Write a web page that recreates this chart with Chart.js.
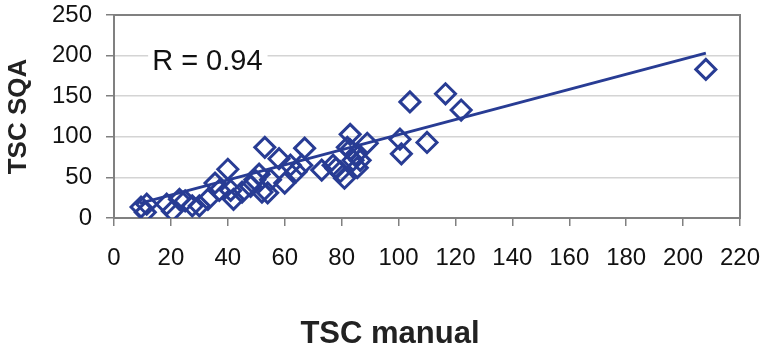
<!DOCTYPE html>
<html>
<head>
<meta charset="utf-8">
<script src="https://cdn.jsdelivr.net/npm/chart.js@4"></script>
<style>
  html, body { margin: 0; padding: 0; background: #fff; }
  #wrap { width: 764px; height: 349px; }
</style>
</head>
<body>
<div id="wrap"><canvas id="tscChart" width="764" height="349"></canvas></div>
<script>
// TSC manual (x) vs TSC SQA (y)
const manualX = [9.5, 11, 11.5, 18.5, 20.5, 23, 25, 27.5, 30, 33, 35.5, 37, 40, 41, 42, 45, 48, 49.5, 51, 53, 52, 54, 55, 58, 60, 62, 64, 66, 67, 73, 77, 78, 79.5, 81, 82, 83, 83, 84, 85, 85.5, 86.5, 89, 100.5, 101, 104, 110, 116.5, 122, 208];
const sqaY    = [13.5, 7, 17, 17, 8.5, 23, 21, 15, 15, 23, 43, 34, 60, 34, 23, 32, 39, 47, 54, 87, 32, 31, 47, 73, 43, 65, 57, 65, 86, 59, 65, 61, 57, 49, 87, 84, 103, 71, 78, 62, 71, 92, 97, 79, 143, 93, 153, 133, 183];

// regression line end points
const trendX = [9, 208];
const trendY = [18, 203];

const xTicks = [0, 20, 40, 60, 80, 100, 120, 140, 160, 180, 200, 220];
const yTicks = [0, 50, 100, 150, 200, 250];

const blue = '#283c94';

const points = manualX.map((x, i) => ({ x: x, y: sqaY[i] }));
const trend = trendX.map((x, i) => ({ x: x, y: trendY[i] }));

const labelsPlugin = {
    id: 'labels',
    beforeDatasetsDraw(chart) {
        const ctx = chart.ctx;
        const a = chart.chartArea;
        const xs = chart.scales.x, ys = chart.scales.y;
        ctx.save();
        // R label sits on a white patch over the grid line
        ctx.font = '29px "Liberation Sans", Arial, sans-serif';
        const rx = xs.getPixelForValue(13.4);
        const ry = ys.getPixelForValue(182);
        const w = ctx.measureText('R = 0.94').width;
        ctx.fillStyle = '#fff';
        ctx.fillRect(rx - 4, ry - 24, w + 9, 26);
        ctx.fillStyle = '#111';
        ctx.textBaseline = 'alphabetic';
        ctx.fillText('R = 0.94', rx, ry);
        // frame
        ctx.strokeStyle = '#808080';
        ctx.lineWidth = 2;
        ctx.strokeRect(a.left, a.top, a.right - a.left, a.bottom - a.top);
        ctx.restore();
    },
    afterDraw(chart) {
        const ctx = chart.ctx;
        ctx.save();
        ctx.font = 'bold 31px "Liberation Sans", Arial, sans-serif';
        ctx.fillStyle = '#222';
        ctx.textAlign = 'center';
        ctx.textBaseline = 'alphabetic';
        ctx.fillText('TSC manual', 390, 343);
        ctx.restore();
    }
};

const ctx = document.getElementById('tscChart').getContext('2d');
const tscChart = new Chart(ctx, {
    type: 'scatter',
    data: {
        datasets: [{
            data: points,
            pointStyle: 'rectRot',
            pointRadius: 10,
            pointHoverRadius: 10,
            borderColor: blue,
            backgroundColor: 'rgba(0,0,0,0)',
            borderWidth: 3
        }, {
            type: 'line',
            data: trend,
            borderColor: blue,
            borderWidth: 3,
            pointRadius: 0,
            fill: false
        }]
    },
    options: {
        responsive: false,
        animation: false,
        layout: { padding: { left: 3, right: 24, top: 15, bottom: 0 } },
        plugins: {
            legend: { display: false },
            tooltip: { enabled: false }
        },
        scales: {
            x: {
                type: 'linear',
                min: 0,
                max: 220,
                afterBuildTicks: (scale) => { scale.ticks = xTicks.map(v => ({ value: v })); },
                afterFit: (scale) => {
                    scale.height = 131;
                    scale.paddingLeft = 0;
                    scale.paddingRight = 0;
                },
                border: { display: false },
                grid: { drawOnChartArea: false, tickLength: 8, tickColor: '#808080', lineWidth: 1.5 },
                ticks: {
                    padding: 18,
                    color: '#111',
                    font: { family: '"Liberation Sans", Arial, sans-serif', size: 24 }
                }
            },
            y: {
                min: 0,
                max: 250,
                afterBuildTicks: (scale) => { scale.ticks = yTicks.map(v => ({ value: v })); },
                afterFit: (scale) => {
                    scale.width = 111;
                    scale.paddingTop = 0;
                    scale.paddingBottom = 0;
                },
                border: { display: false },
                grid: { color: '#d4d4d4', lineWidth: 1.5, tickLength: 8, tickColor: '#808080' },
                ticks: {
                    padding: 14,
                    color: '#111',
                    font: { family: '"Liberation Sans", Arial, sans-serif', size: 24 }
                },
                title: {
                    display: true,
                    text: 'TSC SQA',
                    color: '#222',
                    padding: 0,
                    font: { family: '"Liberation Sans", Arial, sans-serif', size: 26, weight: 'bold' }
                }
            }
        }
    },
    plugins: [labelsPlugin]
});
</script>
</body>
</html>
